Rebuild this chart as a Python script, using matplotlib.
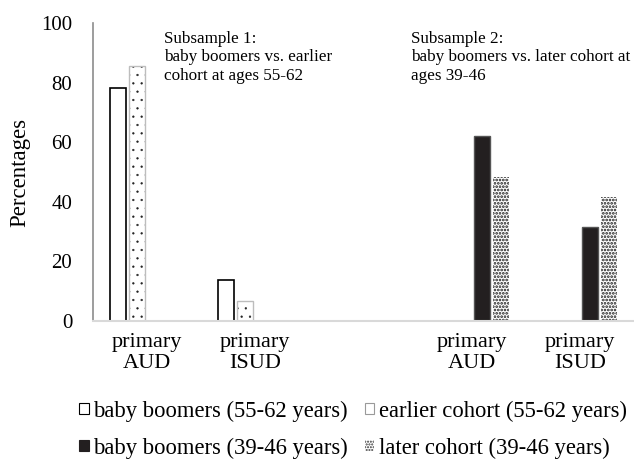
import matplotlib
matplotlib.use("Agg")
import matplotlib.pyplot as plt
from matplotlib.patches import Patch
import numpy as np

categories = ["primary\nAUD", "primary\nISUD", "", "primary\nAUD", "primary\nISUD"]
series_names = ["baby boomers (55-62 years)", "earlier cohort (55-62 years)",
                "baby boomers (39-46 years)", "later cohort (39-46 years)"]
bb_55_62 = [78.2, 13.8, 0, 0, 0]
earlier_55_62 = [85.6, 6.8, 0, 0, 0]
bb_39_46 = [0, 0, 0, 62.1, 31.5]
later_39_46 = [0, 0, 0, 48.2, 41.6]
y_ticks = [0, 20, 40, 60, 80, 100]
note1 = "Subsample 1:\nbaby boomers vs. earlier\ncohort at ages 55-62"
note2 = "Subsample 2:\nbaby boomers vs. later cohort at\nages 39-46"

plt.rcParams['font.family'] = ['Liberation Serif', 'DejaVu Serif']

W, H = 634, 467
fig = plt.figure(figsize=(W / 100, H / 100), dpi=100)
ax = fig.add_axes([93 / W, 1 - 321 / H, (634 - 93) / W, (321 - 23) / H])

x = np.arange(len(categories))
slot = 0.182
bw = 0.148
offs = np.array([-1.5, -0.5, 0.5, 1.5]) * slot

# baby boomers 55-62: white with black edge
ax.bar(x + offs[0], bb_55_62, bw, facecolor='white', edgecolor='black', linewidth=1.2)
# earlier cohort: sparse dots, light-gray edge
with plt.rc_context({'hatch.linewidth': 0.4}):
    ax.bar(x + offs[1], earlier_55_62, bw, facecolor='white', edgecolor='#222222',
           linewidth=0, hatch='..')
ax.bar(x + offs[1], earlier_55_62, bw, fill=False, edgecolor='#bdbdbd', linewidth=1.0)
# baby boomers 39-46: solid dark
ax.bar(x + offs[2], bb_39_46, bw, facecolor='#231f20', edgecolor='#555555', linewidth=1.0)
# later cohort: dense dots
with plt.rc_context({'hatch.linewidth': 1.3}):
    ax.bar(x + offs[3], later_39_46, bw, facecolor='white', edgecolor='#1a1a1a',
           linewidth=0, hatch='.....')

ax.set_xlim(-0.5, len(categories) - 0.5)
ax.set_ylim(0, 100)
ax.set_yticks(y_ticks)
ax.set_xticks(x)
ax.set_xticklabels(categories, fontsize=16, linespacing=1.1)
ax.tick_params(axis='y', length=0, pad=15, labelsize=15)
ax.tick_params(axis='x', length=0, pad=9)
for s in ['top', 'right']:
    ax.spines[s].set_visible(False)
ax.spines['left'].set_color('#8c8c8c')
ax.spines['left'].set_linewidth(1.2)
ax.spines['bottom'].set_color('#d9d9d9')
ax.spines['bottom'].set_linewidth(1.5)
ax.set_ylabel("Percentages", fontsize=16.5, labelpad=8)

fig.text(164 / W, 1 - 31 / H, note1, fontsize=12.3, va='top', ha='left', linespacing=1.2)
fig.text(411 / W, 1 - 31 / H, note2, fontsize=12.3, va='top', ha='left', linespacing=1.2)

h1 = Patch(facecolor='white', edgecolor='black', linewidth=0.8)
h2 = Patch(facecolor='white', edgecolor='#9a9a9a', linewidth=0.8, hatch='.')
h3 = Patch(facecolor='#231f20', edgecolor='#231f20', linewidth=0.8)
with plt.rc_context({'hatch.linewidth': 1.0}):
    h4 = Patch(facecolor='white', edgecolor='#333333', linewidth=0, hatch='......')

kw = dict(frameon=False, fontsize=16.3, handlelength=0.42, handleheight=0.42,
          handletextpad=0.2, columnspacing=0.75, borderpad=0, borderaxespad=0)
leg1 = fig.legend([h1, h2], series_names[:2], ncol=2, loc='center left',
                  bbox_to_anchor=(79 / W, 1 - 411 / H), **kw)
leg2 = fig.legend([h3, h4], series_names[2:], ncol=2, loc='center left',
                  bbox_to_anchor=(79 / W, 1 - 448 / H), **kw)

fig.savefig("out.png", dpi=100)
